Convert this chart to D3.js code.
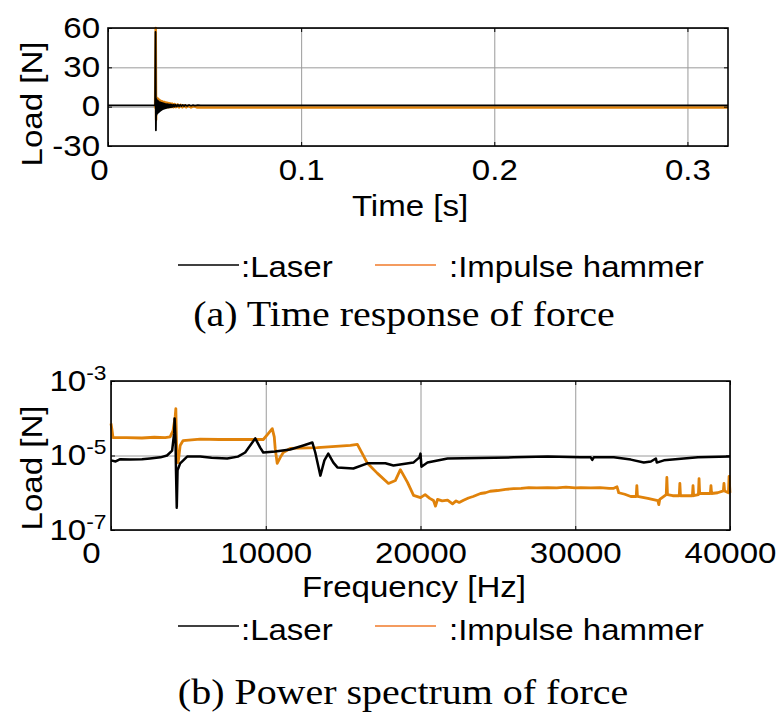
<!DOCTYPE html>
<html><head><meta charset="utf-8">
<script src="https://cdn.jsdelivr.net/npm/d3@7"></script>
<style>
html,body{margin:0;padding:0;background:#fff;}
svg{display:block;}
</style></head>
<body>
<script>
// ---------- DATA ----------
// (a) time response of force
const timeTicks = [0, 0.1, 0.2, 0.3];
const loadTicks = [-30, 0, 30, 60];
const laserTime = [0, 0.0100, 0.0200, 0.0240, 0.0244, 0.0246, 0.0248, 0.0250, 0.0252, 0.0254, 0.0256, 0.0258, 0.0260, 0.0262, 0.0264, 0.0266, 0.0268, 0.0270, 0.0272, 0.0274, 0.0276, 0.0278, 0.0280, 0.0283, 0.0286, 0.0289, 0.0292, 0.0295, 0.0298, 0.0301, 0.0304, 0.0307, 0.0310, 0.0314, 0.0318, 0.0322, 0.0326, 0.0330, 0.0335, 0.0340, 0.0345, 0.0350, 0.0356, 0.0362, 0.0368, 0.0374, 0.0380, 0.0387, 0.0394, 0.0401, 0.0410, 0.0420, 0.0430, 0.0440, 0.0450, 0.0465, 0.0480, 0.1000, 0.2000, 0.3210];
const laserLoad = [1.0, 1.0, 1.0, 1.0, 1.0, 57, -18, 6, -6, 5, -5, 4.5, -4.5, 4, -4, 3.5, -3.5, 3.2, -3, 3, -2.6, 2.8, -2.2, 2.6, -1.8, 2.4, -1.5, 2.2, -1.2, 2.0, -1.0, 1.9, -0.8, 1.8, -0.6, 1.7, -0.4, 1.6, -0.2, 1.6, 0, 1.5, 0.2, 1.5, 0.3, 1.4, 0.4, 1.4, 0.5, 1.3, 0.6, 1.3, 0.7, 1.2, 0.8, 1.2, 1.0, 1.0, 1.0, 1.0];
const hammerTime = [0.0240, 0.0244, 0.0247, 0.0249, 0.0251, 0.0253, 0.0255, 0.0257, 0.0259, 0.0261, 0.0263, 0.0265, 0.0267, 0.0269, 0.0272, 0.0275, 0.0278, 0.0281, 0.0284, 0.0288, 0.0292, 0.0296, 0.0300, 0.0305, 0.0310, 0.0315, 0.0320, 0.0326, 0.0332, 0.0338, 0.0345, 0.0352, 0.0360, 0.0368, 0.0376, 0.0385, 0.0395, 0.0405, 0.0415, 0.0430, 0.0445, 0.0460, 0.0500, 0.1000, 0.2000, 0.3210];
const hammerLoad = [-0.6, -0.6, 60, -10, 7, -3, 6.5, -2.5, 6, -2, 5.5, -1.5, 5, -1.2, 4.6, -1, 4.2, -0.8, 3.8, -0.6, 3.5, -0.5, 3.2, -0.4, 2.9, -0.4, 2.6, -0.4, 2.3, -0.4, 2.0, -0.4, 1.7, -0.5, 1.4, -0.5, 1.1, -0.5, 0.8, -0.6, 0.5, -0.6, -0.6, -0.6, -0.6, -0.6];

// (b) power spectrum of force (values given as log10 of load [N])
const freqTicks = [0, 10000, 20000, 30000, 40000];
const specTicks = [1e-7, 1e-5, 1e-3];
const laserFreq = [0, 300, 600, 1230, 2000, 2520, 3200, 3620, 3950, 4080, 4110, 4170, 4200, 4250, 4300, 4470, 4920, 5760, 6500, 7510, 8200, 8670, 9320, 9640, 9840, 10610, 11580, 12430, 13010, 13200, 13530, 13790, 14040, 14370, 14630, 15660, 16570, 17730, 18250, 19540, 19930, 20000, 20060, 20450, 21750, 26020, 28220, 30350, 31000, 31100, 31200, 32490, 33590, 34430, 34890, 35210, 35270, 35730, 37930, 40000];
const laserLog = [-5.13, -5.16, -5.10, -5.11, -5.10, -5.08, -5.05, -5.00, -4.87, -4.40, -4.01, -4.60, -5.40, -6.40, -5.40, -5.21, -5.03, -5.03, -5.06, -5.08, -5.03, -4.92, -4.54, -4.79, -4.92, -4.89, -4.84, -4.73, -4.65, -4.92, -5.54, -5.13, -4.95, -5.19, -5.32, -5.35, -5.21, -5.21, -5.27, -5.19, -5.05, -4.95, -5.30, -5.19, -5.08, -5.05, -5.03, -5.05, -5.05, -5.12, -5.05, -5.05, -5.11, -5.19, -5.16, -5.08, -5.19, -5.13, -5.05, -5.03];
const hammerFreq = [0, 60, 130, 1000, 2000, 2800, 3500, 3820, 4010, 4150, 4190, 4230, 4270, 4340, 4470, 4660, 5760, 7000, 8500, 9840, 10160, 10420, 10550, 10610, 10740, 10940, 11130, 11580, 13330, 15470, 15920, 16240, 16570, 17220, 17930, 18380, 18700, 19160, 19550, 20000, 20300, 20600, 20840, 20970, 21100, 21400, 21750, 22070, 22300, 22500, 22780, 23100, 23400, 23880, 24200, 24500, 24980, 25500, 26020, 26500, 27000, 27500, 28220, 28800, 29400, 30000, 30350, 31000, 31600, 32200, 32490, 32700, 32810, 33200, 33590, 33940, 33980, 34020, 34690, 35340, 35400, 35460, 35880, 35920, 35960, 36300, 36720, 36760, 36800, 37200, 37570, 37610, 37650, 37960, 38000, 38040, 38400, 38730, 38770, 38810, 39200, 39570, 39610, 39650, 39900, 39940, 40000];
const hammerLog = [-4.14, -4.30, -4.52, -4.52, -4.53, -4.51, -4.52, -4.50, -4.33, -3.95, -3.74, -4.60, -5.13, -5.19, -4.73, -4.60, -4.56, -4.57, -4.57, -4.57, -4.41, -4.28, -4.50, -4.81, -5.21, -5.05, -4.92, -4.81, -4.79, -4.73, -4.70, -4.95, -5.21, -5.48, -5.75, -5.67, -5.38, -5.72, -6.07, -6.13, -6.05, -6.15, -6.21, -6.36, -6.18, -6.22, -6.20, -6.30, -6.22, -6.26, -6.20, -6.14, -6.10, -6.02, -6.00, -5.96, -5.94, -5.91, -5.89, -5.88, -5.86, -5.87, -5.86, -5.87, -5.85, -5.87, -5.86, -5.87, -5.86, -5.88, -5.88, -5.84, -6.00, -6.04, -6.10, -6.10, -5.81, -6.10, -6.15, -6.21, -6.32, -6.18, -6.05, -5.59, -6.05, -6.08, -6.08, -5.75, -6.08, -6.08, -6.08, -5.81, -6.08, -6.05, -5.62, -6.02, -6.02, -6.02, -5.81, -6.02, -6.00, -5.95, -5.75, -5.95, -6.00, -5.56, -6.00];

const legendLabels = [":Laser", ":Impulse hammer"];
const captions = ["(a) Time response of force", "(b) Power spectrum of force"];
const axisTitles = {tx: "Time [s]", ty: "Load [N]", fx: "Frequency [Hz]", fy: "Load [N]"};

// ---------- STYLE ----------
const SANS = "'Liberation Sans', Arial, Helvetica, sans-serif";
const SERIF = "'Liberation Serif', 'Times New Roman', Times, serif";
const C_LASER = "#000000", C_HAMMER = "#e0820a", C_HAMMER_LEG = "#f07a2a";
const SX = 1.14, FS = 29, SX_LEG = 1.10, SX_SERIF = 1.11;

const svg = d3.select("body").append("svg").attr("width", 777).attr("height", 713)
  .style("font-family", SANS);

function drawGrid(cfg) {
  const {x, y, xTicks, yTicks} = cfg;
  const [x0, x1] = x.range(), [y0, y1] = y.range();
  const g = svg.append("g");
  const gs = s => { s.select(".domain").remove(); s.selectAll("line").attr("stroke", "#9a9a9a").attr("stroke-width", 1); };
  g.append("g").attr("transform", `translate(0,${y0})`)
    .call(d3.axisBottom(x).tickValues(xTicks).tickSize(-(y0 - y1)).tickFormat("")).call(gs);
  g.append("g").attr("transform", `translate(${x0},0)`)
    .call(d3.axisLeft(y).tickValues(yTicks).tickSize(-(x1 - x0)).tickFormat("")).call(gs);
  return g;
}

function drawFrame(g, cfg) {
  const {x, y, xTicks, yTicks} = cfg;
  const [x0, x1] = x.range(), [y0, y1] = y.range();
  const tk = 4;
  const styl = s => { s.select(".domain").remove(); s.selectAll("line").attr("stroke", "#000").attr("stroke-width", 1); s.selectAll("text").remove(); };
  g.append("g").attr("transform", `translate(0,${y0})`).call(d3.axisBottom(x).tickValues(xTicks).tickSize(-tk)).call(styl);
  g.append("g").attr("transform", `translate(0,${y1})`).call(d3.axisTop(x).tickValues(xTicks).tickSize(-tk)).call(styl);
  g.append("g").attr("transform", `translate(${x0},0)`).call(d3.axisLeft(y).tickValues(yTicks).tickSize(-tk)).call(styl);
  g.append("g").attr("transform", `translate(${x1},0)`).call(d3.axisRight(y).tickValues(yTicks).tickSize(-tk)).call(styl);
  g.append("rect").attr("x", x0).attr("y", y1).attr("width", x1 - x0).attr("height", y0 - y1)
    .attr("fill", "none").attr("stroke", "#000").attr("stroke-width", 1.6);
}

// ---------- PANEL A ----------
const xT = d3.scaleLinear().domain([0, 0.321]).range([108, 728]);
const yT = d3.scaleLinear().domain([-30, 60]).range([146, 28]);
const cfgA = {x: xT, y: yT, xTicks: timeTicks, yTicks: loadTicks};
const gA = drawGrid(cfgA);
const lineT = d3.line().x(d => xT(d[0])).y(d => yT(d[1]));
gA.append("path").datum(hammerTime.map((t, i) => [t, hammerLoad[i]]))
  .attr("d", lineT).attr("fill", "none").attr("stroke", C_HAMMER).attr("stroke-width", 2.5).attr("stroke-linejoin", "round");
gA.append("path").datum(laserTime.map((t, i) => [t, laserLoad[i]]))
  .attr("d", lineT).attr("fill", "none").attr("stroke", C_LASER).attr("stroke-width", 1.8).attr("stroke-linejoin", "round");
drawFrame(gA, cfgA);

gA.append("g").attr("transform", "translate(0,146)")
  .call(d3.axisBottom(xT).tickValues(timeTicks).tickSize(0).tickPadding(13).tickFormat(d => d === 0 ? "0" : d3.format(".1f")(d)))
  .call(s => { s.select(".domain").remove();
    s.selectAll("text").attr("font-size", FS).attr("font-family", SANS)
      .attr("transform", d => d === 0 ? `translate(-9,0) scale(${SX},1)` : `scale(${SX},1)`); });
gA.append("g").attr("transform", "translate(108,0)")
  .call(d3.axisLeft(yT).tickValues(loadTicks).tickSize(0).tickPadding(7).tickFormat(d => String(d)))
  .call(s => { s.select(".domain").remove();
    s.selectAll("text").attr("font-size", FS).attr("font-family", SANS).attr("transform", `scale(${SX},1)`); });

svg.append("text").attr("transform", `translate(410,216) scale(${SX},1)`).attr("text-anchor", "middle").attr("font-size", FS).text(axisTitles.tx);
svg.append("text").attr("transform", `translate(42,104) rotate(-90) scale(${SX},1)`).attr("text-anchor", "middle").attr("font-size", FS).text(axisTitles.ty);

// ---------- PANEL B ----------
const xB = d3.scaleLinear().domain([0, 40000]).range([111, 730]);
const yB = d3.scaleLog().domain([1e-7, 1e-3]).range([530, 381]);
const cfgB = {x: xB, y: yB, xTicks: freqTicks, yTicks: specTicks};
const gB = drawGrid(cfgB);
const lineB = d3.line().x(d => xB(d[0])).y(d => yB(Math.pow(10, d[1])));
gB.append("path").datum(hammerFreq.map((f, i) => [f, hammerLog[i]]))
  .attr("d", lineB).attr("fill", "none").attr("stroke", C_HAMMER).attr("stroke-width", 2.8).attr("stroke-linejoin", "round");
gB.append("path").datum(laserFreq.map((f, i) => [f, laserLog[i]]))
  .attr("d", lineB).attr("fill", "none").attr("stroke", C_LASER).attr("stroke-width", 2.5).attr("stroke-linejoin", "round");
drawFrame(gB, cfgB);

gB.append("g").attr("transform", "translate(0,530)")
  .call(d3.axisBottom(xB).tickValues(freqTicks).tickSize(0).tickPadding(12).tickFormat(d3.format("d")))
  .call(s => { s.select(".domain").remove();
    s.selectAll("text").attr("font-size", FS).attr("font-family", SANS)
      .attr("transform", d => d === 0 ? `translate(-20,0) scale(${SX},1)` : `scale(${SX},1)`); });
gB.append("g").attr("transform", "translate(111,0)")
  .call(d3.axisLeft(yB).tickValues(specTicks).tickSize(0).tickPadding(4).tickFormat(() => ""))
  .call(s => { s.select(".domain").remove();
    s.selectAll("text").attr("font-size", FS).attr("font-family", SANS).attr("transform", `scale(${SX},1)`)
      .each(function(d) {
        const t = d3.select(this);
        t.append("tspan").text("10");
        t.append("tspan").attr("font-size", 20).attr("dy", "-0.55em").text(String(Math.round(Math.log10(d))));
      }); });

svg.append("text").attr("transform", `translate(414,597) scale(${SX},1)`).attr("text-anchor", "middle").attr("font-size", FS).text(axisTitles.fx);
svg.append("text").attr("transform", `translate(42,468) rotate(-90) scale(${SX},1)`).attr("text-anchor", "middle").attr("font-size", FS).text(axisTitles.fy);

// ---------- LEGENDS & CAPTIONS ----------
function legend(yLine, yBase) {
  const g = svg.append("g");
  g.append("line").attr("x1", 178).attr("x2", 239).attr("y1", yLine).attr("y2", yLine).attr("stroke", C_LASER).attr("stroke-width", 1.6);
  g.append("text").attr("transform", `translate(241,${yBase}) scale(${SX_LEG},1)`).attr("font-size", 30).text(legendLabels[0]);
  g.append("line").attr("x1", 375).attr("x2", 436).attr("y1", yLine).attr("y2", yLine).attr("stroke", C_HAMMER_LEG).attr("stroke-width", 1.6);
  g.append("text").attr("transform", `translate(449,${yBase}) scale(${SX_LEG},1)`).attr("font-size", 30).text(legendLabels[1]);
}
legend(265, 277);
legend(626, 640);

svg.append("text").style("font-family", SERIF).attr("transform", `translate(404,326) scale(${SX_SERIF},1)`).attr("text-anchor", "middle").attr("font-size", 36).text(captions[0]);
svg.append("text").style("font-family", SERIF).attr("transform", `translate(403,704) scale(${SX_SERIF},1)`).attr("text-anchor", "middle").attr("font-size", 36).text(captions[1]);
</script>
</body></html>
